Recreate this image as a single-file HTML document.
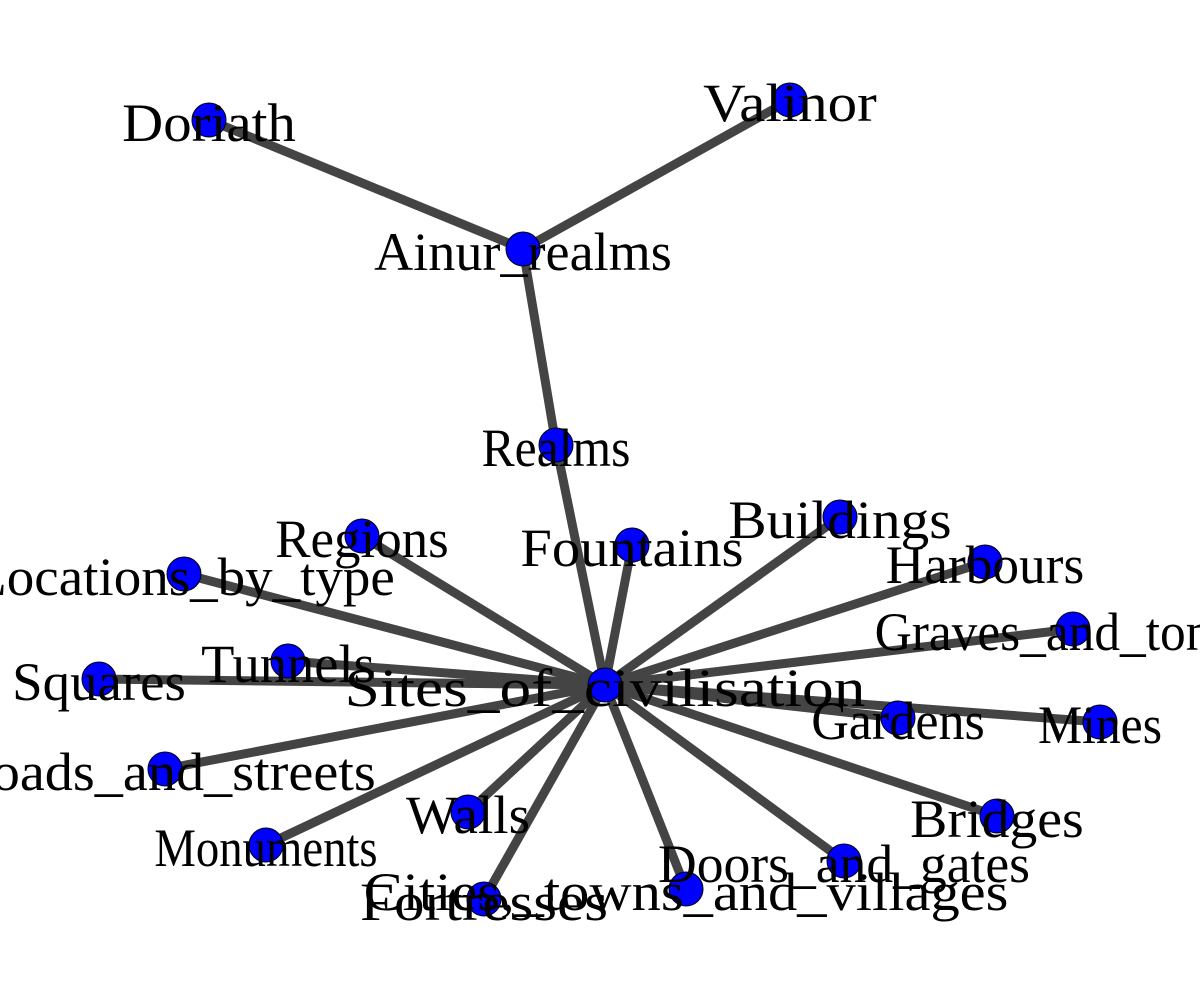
<!DOCTYPE html>
<html><head><meta charset="utf-8"><style>
html,body{margin:0;padding:0;background:#fff;width:1200px;height:1000px;overflow:hidden}
text{font-family:"Liberation Serif","Noto Serif CJK SC",serif;font-size:54px;fill:#000}
</style></head><body>
<svg id="g" width="1200" height="1000" viewBox="0 0 1200 1000" xmlns="http://www.w3.org/2000/svg">
<g id="edges"></g>
<g id="nodes"></g>
<g id="labels"></g>
</svg>
<script>
const nodeNames = ["Sites_of_civilisation","Realms","Ainur_realms","Doriath","Valinor","Regions","Locations_by_type","Tunnels","Squares","Roads_and_streets","Monuments","Walls","Fortresses","Cities,_towns_and_villages","Doors_and_gates","Bridges","Mines","Gardens","Graves_and_tombs","Harbours","Buildings","Fountains"];
const nodeX = [605,556,523,209,790,362,184,288,99,165,266,468,484,686,844,997,1100,898,1073,985,840,632];
const nodeY = [685,445,249,120,100,536,574,661,679,769,845,812,899,889,861,816,722,718,629,562,517,545];
const edgeFrom = [0,1,2,2,0,0,0,0,0,0,0,0,0,0,0,0,0,0,0,0,0];
const edgeTo = [1,2,3,4,5,6,7,8,9,10,11,12,13,14,15,16,17,18,19,20,21];
const NS="http://www.w3.org/2000/svg";
const E=document.getElementById('edges'),N=document.getElementById('nodes'),L=document.getElementById('labels');
for(let i=0;i<edgeFrom.length;i++){
  const l=document.createElementNS(NS,'line');
  l.setAttribute('x1',nodeX[edgeFrom[i]]);l.setAttribute('y1',nodeY[edgeFrom[i]]);
  l.setAttribute('x2',nodeX[edgeTo[i]]);l.setAttribute('y2',nodeY[edgeTo[i]]);
  l.setAttribute('stroke','#444');l.setAttribute('stroke-width','9');
  
  
  E.appendChild(l);
}
for(let i=0;i<nodeNames.length;i++){
  const c=document.createElementNS(NS,'circle');
  c.setAttribute('cx',nodeX[i]);c.setAttribute('cy',nodeY[i]);c.setAttribute('r','17');
  c.setAttribute('fill','#0000ff');c.setAttribute('stroke','#000');c.setAttribute('stroke-width','1');
  
  
  N.appendChild(c);
  const t=document.createElementNS(NS,'text');
  t.setAttribute('x',nodeX[i]);t.setAttribute('y',nodeY[i]+21);
  t.setAttribute('text-anchor','middle');
  t.setAttribute('textLength',nodeNames[i].length*24.8);
  t.setAttribute('lengthAdjust','spacingAndGlyphs');
  t.textContent=nodeNames[i];
  
  
  L.appendChild(t);
}
</script>
</body></html>
